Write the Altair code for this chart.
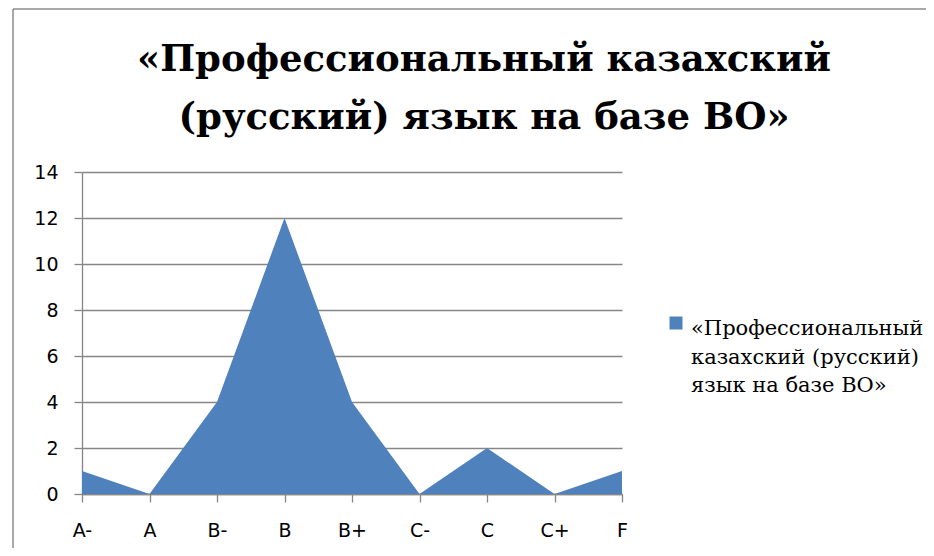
import altair as alt
import pandas as pd

categories = ["A-", "A", "B-", "B", "B+", "C-", "C", "C+", "F"]
values = [1, 0, 4, 12, 4, 0, 2, 0, 1]
series_name = "«Профессиональный казахский (русский) язык на базе ВО»"
title_lines = ["«Профессиональный казахский", "(русский) язык на базе ВО»"]
legend_lines = ["«Профессиональный", "казахский  (русский)", "язык на базе ВО»"]
y_ticks = [0, 2, 4, 6, 8, 10, 12, 14]

BLUE = "#4F81BD"
GRAY = "#868686"
SERIF = "DejaVu Serif"
SANS = "DejaVu Sans"

df = pd.DataFrame({"grade": categories, "count": values, "series": series_name})

x_enc = alt.X(
    "grade:N",
    sort=categories,
    scale=alt.Scale(type="point", padding=0),
    axis=alt.Axis(
        title=None, labelAngle=0, labelFont=SANS, labelFontSize=19,
        labelColor="#000000", labelPadding=19, tickSize=8, tickColor=GRAY,
        domainColor=GRAY, domainWidth=1.3, tickWidth=1.3, grid=False,
    ),
)
y_enc = alt.Y(
    "count:Q",
    scale=alt.Scale(domain=[0, 14], nice=False),
    axis=alt.Axis(
        title=None, values=y_ticks, labelFont=SANS, labelFontSize=19,
        labelColor="#000000", labelPadding=16, tickSize=8, tickColor=GRAY,
        domainColor=GRAY, domainWidth=1.3, tickWidth=1.3,
        grid=True, gridColor=GRAY, gridWidth=1.3,
    ),
)

area = alt.Chart(df).mark_area(color=BLUE, opacity=1, line=False, interpolate="linear").encode(
    x=x_enc, y=y_enc
)

title_df = pd.DataFrame({"t": [title_lines]})
title = alt.Chart(title_df).mark_text(
    font=SERIF, fontWeight="bold", fontSize=37, align="center",
    baseline="alphabetic", lineHeight=58, color="#000000",
).encode(text="t:N", x=alt.value(402), y=alt.value(-101))

legend_df = pd.DataFrame({"t": [legend_lines]})
legend_text = alt.Chart(legend_df).mark_text(
    font=SERIF, fontSize=21, align="left", baseline="alphabetic",
    lineHeight=28.5, color="#000000",
).encode(text="t:N", x=alt.value(609), y=alt.value(163))

legend_sym = alt.Chart(legend_df).mark_square(
    color=BLUE, opacity=1, size=169
).encode(x=alt.value(594), y=alt.value(151))

frame_left = alt.Chart(legend_df).mark_rule(
    color="#8c8c8c", strokeWidth=1.5
).encode(x=alt.value(-69), y=alt.value(-163), y2=alt.value(420))

frame_top = alt.Chart(legend_df).mark_rule(
    color="#8c8c8c", strokeWidth=1.5
).encode(x=alt.value(-69), x2=alt.value(880), y=alt.value(-163))

chart = alt.layer(frame_left, frame_top, area, title, legend_sym, legend_text).properties(
    width=540, height=322,
    autosize=alt.AutoSizeParams(type="none"),
    padding={"left": 74, "top": 164, "right": 304, "bottom": 54},
    background="#ffffff",
).configure_view(stroke=None)

chart.save("out.html", embed_options={"renderer": "svg", "actions": False})
